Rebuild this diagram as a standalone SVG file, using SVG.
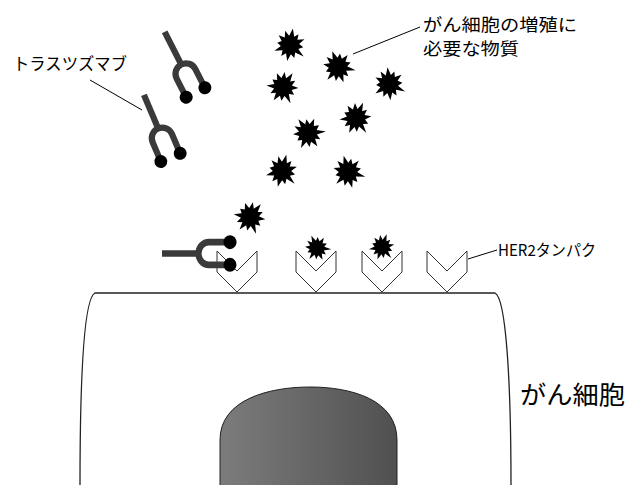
<svg xmlns="http://www.w3.org/2000/svg" xmlns:xlink="http://www.w3.org/1999/xlink" width="626" height="485" viewBox="0 0 626 485">
  <style>
    .label { font-family: "Noto Sans CJK JP", "Liberation Sans", sans-serif; fill: #000; }
    .leader { stroke: #000; stroke-width: 1; fill: none; }
    .ab-line { stroke: #3a3a3a; stroke-width: 6.2; fill: none; }
    .ab-ball { fill: #000; }
    .receptor { fill: #fff; stroke: #333; stroke-width: 1; stroke-linejoin: miter; }
    .burst { fill: #000; }
    .cell { fill: #fff; stroke: #222; stroke-width: 1.3; }
    .nucleus { fill: url(#nucleusFill); stroke: #222; stroke-width: 1; }
  </style>
  <defs>
    <linearGradient id="nucleusFill" x1="0" y1="0" x2="1" y2="0">
      <stop offset="0" stop-color="#7c7c7c"/>
      <stop offset="1" stop-color="#505050"/>
    </linearGradient>
    <!-- antibody: stem ends at the origin, arms open downward -->
    <g id="antibody">
      <path class="ab-line" d="M0,-36 L0,1"/>
      <path class="ab-line" d="M-10.5,31 L-10.5,11 A10.5,10.5 0 0 1 10.5,11 L10.5,31"/>
      <circle class="ab-ball" cx="-10.5" cy="32" r="6.5"/>
      <circle class="ab-ball" cx="10.5" cy="32" r="6.5"/>
    </g>
    <!-- growth factor burst -->
    <path id="burst" class="burst" d="M0,-15 L2.4,-7.8 L5.8,-10.8 L5.7,-5.7 L11.8,-7.2 L7.9,-2.2 L12,0 L7.9,2.2 L13.8,8 L5.7,5.7 L5.8,10.8 L2.2,7.9 L0,14.5 L-2.2,7.9 L-6,11 L-5.7,5.7 L-12.8,7.4 L-7.9,2.2 L-11.5,0 L-7.9,-2.2 L-11.5,-6.8 L-5.7,-5.7 L-6.5,-11.8 L-2.2,-7.9 Z"/>
    <!-- HER2 receptor chevron -->
    <path id="chevron" class="receptor" d="M-20,0 L0,20 L20,0 L20,21 L0,41 L-20,21 Z"/>
  </defs>

  <!-- cancer cell body -->
  <g id="cell">
    <path class="cell" d="M80,486 C80,380 84,298 95,293 L495,293 C506,298 511,380 511,486"/>
  </g>

  <!-- nucleus -->
  <g id="nucleus">
    <path class="nucleus" d="M220,486 L220,440 C220,400 268,387 310,387 C352,387 397,400 397,440 L397,486"/>
  </g>

  <!-- HER2 receptors on the membrane -->
  <g id="receptors">
    <use xlink:href="#chevron" href="#chevron" transform="translate(237,251)"/>
    <use xlink:href="#chevron" href="#chevron" transform="translate(316,251)"/>
    <use xlink:href="#chevron" href="#chevron" transform="translate(382,251)"/>
    <use xlink:href="#chevron" href="#chevron" transform="translate(447,251)"/>
  </g>

  <!-- growth factors -->
  <g id="growth-factors">
    <use xlink:href="#burst" href="#burst" transform="translate(290,45) rotate(10) scale(1.12)"/>
    <use xlink:href="#burst" href="#burst" transform="translate(338,67) rotate(-20) scale(1.12)"/>
    <use xlink:href="#burst" href="#burst" transform="translate(283,87) rotate(35) scale(1.12)"/>
    <use xlink:href="#burst" href="#burst" transform="translate(389,84) rotate(-5) scale(1.12)"/>
    <use xlink:href="#burst" href="#burst" transform="translate(356,118) rotate(25) scale(1.12)"/>
    <use xlink:href="#burst" href="#burst" transform="translate(308,133) rotate(-35) scale(1.12)"/>
    <use xlink:href="#burst" href="#burst" transform="translate(282,171) rotate(15) scale(1.12)"/>
    <use xlink:href="#burst" href="#burst" transform="translate(348,172) rotate(-15) scale(1.12)"/>
    <use xlink:href="#burst" href="#burst" transform="translate(250,217) rotate(40) scale(1.12)"/>
    <use xlink:href="#burst" href="#burst" transform="translate(317,248) rotate(-25) scale(0.9)"/>
    <use xlink:href="#burst" href="#burst" transform="translate(382,247) rotate(20) scale(0.9)"/>
  </g>

  <!-- trastuzumab molecules -->
  <g id="antibody-free-1">
    <use xlink:href="#antibody" href="#antibody" transform="translate(181,64) rotate(-27)"/>
  </g>
  <g id="antibody-free-2">
    <use xlink:href="#antibody" href="#antibody" transform="translate(158,128) rotate(-23)"/>
  </g>
  <g id="antibody-bound">
    <use xlink:href="#antibody" href="#antibody" transform="translate(198,253.5) rotate(-90) scale(1.08,1)"/>
  </g>

  <!-- leader lines -->
  <g id="connectors">
    <line class="leader" x1="90" y1="80" x2="142" y2="110"/>
    <line class="leader" x1="353" y1="54" x2="420" y2="27"/>
    <line class="leader" x1="468" y1="259" x2="497" y2="250"/>
  </g>

  <!-- labels -->
  <g id="labels">
    <text class="label" x="13" y="70" font-size="17" textLength="114" lengthAdjust="spacingAndGlyphs">トラスツズマブ</text>
    <text class="label" x="423" y="30.5" font-size="17" textLength="154" lengthAdjust="spacingAndGlyphs">がん細胞の増殖に</text>
    <text class="label" x="423" y="55" font-size="17" textLength="96" lengthAdjust="spacingAndGlyphs">必要な物質</text>
    <text class="label" x="498" y="256" font-size="15.5" textLength="98" lengthAdjust="spacingAndGlyphs">HER2タンパク</text>
    <text class="label" x="520" y="404" font-size="25" textLength="105" lengthAdjust="spacingAndGlyphs">がん細胞</text>
  </g>
</svg>
